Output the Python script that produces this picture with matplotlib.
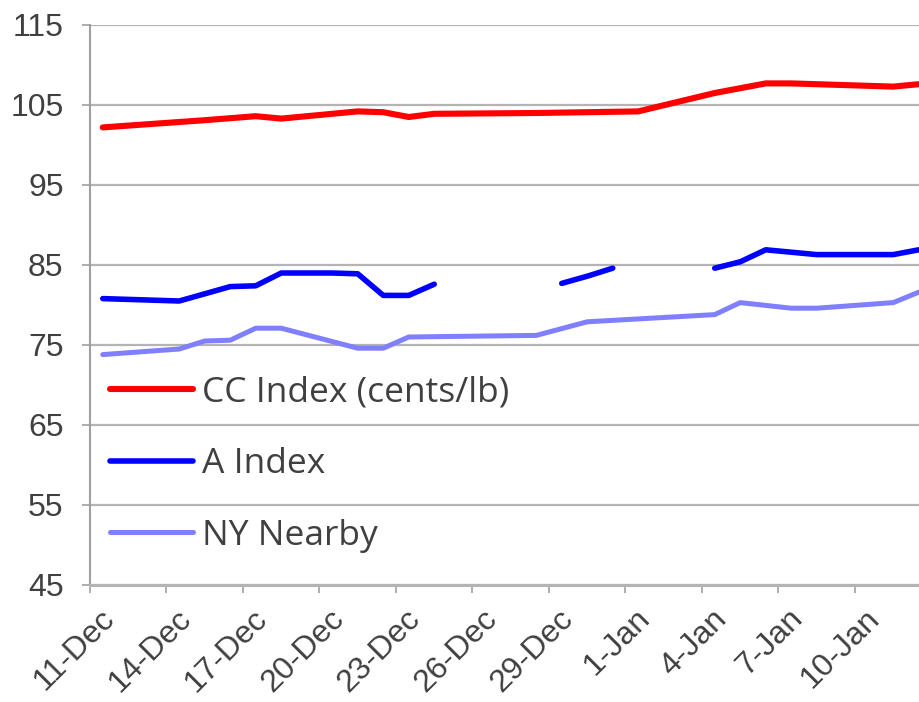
import matplotlib
matplotlib.use('Agg')
import matplotlib.pyplot as plt
import matplotlib.dates as mdates
import matplotlib.transforms as mtransforms
import numpy as np
import pandas as pd

# CC Index (cents/lb)
cc_days = ['2017-12-11', '2017-12-15', '2017-12-17', '2017-12-18', '2017-12-21', '2017-12-22',
           '2017-12-23', '2017-12-24', '2017-12-28', '2018-01-01', '2018-01-04', '2018-01-06',
           '2018-01-07', '2018-01-10', '2018-01-11', '2018-01-12']
cc_vals = [102.2, 103.1, 103.6, 103.3, 104.2, 104.1,
           103.5, 103.9, 104.0, 104.2, 106.5, 107.7,
           107.7, 107.4, 107.3, 107.6]

# A Index (gaps = no quote)
a_days = ['2017-12-11', '2017-12-12', '2017-12-14', '2017-12-15', '2017-12-16', '2017-12-17',
          '2017-12-18', '2017-12-20', '2017-12-21', '2017-12-22', '2017-12-23', '2017-12-24',
          '2017-12-26', '2017-12-29', '2017-12-30', '2017-12-31', '2018-01-02', '2018-01-04',
          '2018-01-05', '2018-01-06', '2018-01-08', '2018-01-11', '2018-01-12']
a_vals = [80.8, 80.7, 80.5, 81.4, 82.3, 82.4,
          84.0, 84.0, 83.9, 81.2, 81.2, 82.6,
          np.nan, 82.7, 83.6, 84.6, np.nan, 84.6,
          85.4, 86.9, 86.3, 86.3, 86.9]

# NY Nearby
ny_days = ['2017-12-11', '2017-12-14', '2017-12-15', '2017-12-16', '2017-12-17', '2017-12-18',
           '2017-12-21', '2017-12-22', '2017-12-23', '2017-12-28', '2017-12-30', '2018-01-04',
           '2018-01-05', '2018-01-07', '2018-01-08', '2018-01-11', '2018-01-12']
ny_vals = [73.8, 74.5, 75.5, 75.6, 77.1, 77.1,
           74.6, 74.6, 76.0, 76.2, 77.9, 78.8,
           80.3, 79.6, 79.6, 80.3, 81.6]

tick_days = pd.date_range('2017-12-11', '2018-01-10', freq='3D')
yticks = [45, 55, 65, 75, 85, 95, 105, 115]

half = pd.Timedelta(hours=12)  # points sit mid-day on the date axis

fig = plt.figure(figsize=(9.2, 7.02), dpi=100)
ax = fig.add_axes([90/920, 1 - 585/702, 1 - 90/920, (585 - 25)/702])

ax.plot(pd.to_datetime(cc_days) + half, cc_vals, color='#ff0000', lw=4.4,
        solid_capstyle='round', label='CC Index (cents/lb)', zorder=3)
ax.plot(pd.to_datetime(a_days) + half, a_vals, color='#0000ff', lw=4.0,
        solid_capstyle='round', label='A Index', zorder=3)
ax.plot(pd.to_datetime(ny_days) + half, ny_vals, color='#7f7fff', lw=3.6,
        solid_capstyle='round', label='NY Nearby', zorder=3)

start = pd.Timestamp('2017-12-11')
ax.set_xlim(start, start + pd.Timedelta(days=32.55))
ax.set_ylim(45, 115)
ax.set_yticks(yticks)
ax.set_xticks(tick_days)
ax.xaxis.set_major_formatter(mdates.DateFormatter('%-d-%b'))

ax.yaxis.grid(True, color='#b4b4b4', lw=1.6)
ax.set_axisbelow(True)
for s in ['top', 'right']:
    ax.spines[s].set_visible(False)
ax.spines['left'].set_color('#a0a0a0')
ax.spines['left'].set_linewidth(1.5)
ax.spines['bottom'].set_color('#b4b4b4')
ax.spines['bottom'].set_linewidth(2.2)

ax.tick_params(axis='y', length=6, width=1.2, color='#a0a0a0', pad=13,
               labelsize=23, labelcolor='#404040')
ax.tick_params(axis='x', length=6, width=1.2, color='#a0a0a0', pad=2,
               labelsize=23, labelcolor='#404040')
for lab in ax.get_yticklabels():
    lab.set_family('Liberation Sans')
off = mtransforms.ScaledTranslation(20/100, -18/100, fig.dpi_scale_trans)
for lab in ax.get_xticklabels():
    lab.set_family('Liberation Sans')
    lab.set_rotation(45)
    lab.set_ha('right')
    lab.set_va('center')
    lab.set_rotation_mode('anchor')
    lab.set_transform(lab.get_transform() + off)

leg = ax.legend(loc='upper left', bbox_to_anchor=(0.0, 0.41), frameon=False,
                prop={'family': 'Open Sans', 'size': 25.5}, handlelength=2.35,
                handletextpad=0.23, labelspacing=1.06, borderaxespad=0.17)
for t in leg.get_texts():
    t.set_color('#404040')

fig.savefig('out.png', dpi=100)
